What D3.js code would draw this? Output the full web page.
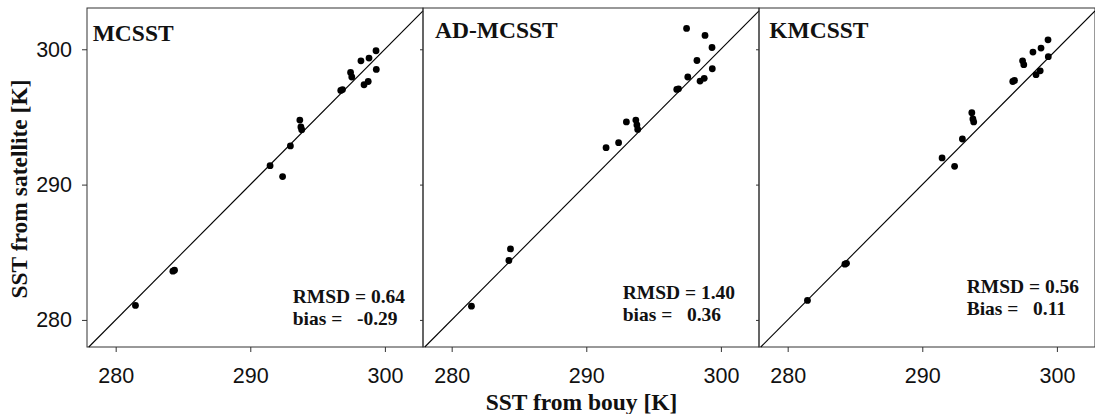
<!DOCTYPE html>
<html>
<head>
<meta charset="utf-8">
<script src="https://cdn.jsdelivr.net/npm/d3@7"></script>
<style>
    body { margin: 0; background: #fff; }
    .tick text { font-family: "Liberation Sans", Arial, sans-serif; font-size: 21.5px; fill: #111; }
    .serif { font-family: "Liberation Serif", "Times New Roman", serif; font-weight: bold; fill: #111; white-space: pre; }
</style>
</head>
<body>
<svg id="chart" width="1095" height="414"></svg>
<script>
// Buoy SST (x) shared by all three panels
const buoy    = [281.47, 284.25, 284.37, 291.47, 292.40, 292.98, 293.68, 293.76, 293.82, 296.72, 296.85, 297.45, 297.54, 298.22, 298.45, 298.76, 298.82, 299.34, 299.36];
// Satellite SST (y) per algorithm
const mcsst   = [281.07, 283.60, 283.68, 291.40, 290.59, 292.86, 294.77, 294.26, 294.06, 296.96, 297.02, 298.29, 297.95, 299.15, 297.38, 297.62, 299.35, 299.89, 298.51];
const admcsst = [281.02, 284.39, 285.25, 292.73, 293.10, 294.63, 294.77, 294.41, 294.08, 297.03, 297.08, 301.54, 297.95, 299.17, 297.65, 297.85, 301.02, 300.13, 298.56];
const kmcsst  = [281.44, 284.12, 284.18, 291.97, 291.35, 293.37, 295.31, 294.85, 294.63, 297.62, 297.70, 299.15, 298.86, 299.79, 298.12, 298.41, 300.09, 300.70, 299.45];

const panelNames = ["MCSST", "AD-MCSST", "KMCSST"];
const rmsdText   = ["0.64", "1.40", "0.56"];
const biasText   = ["-0.29", "0.36", "0.11"];
const biasLabel  = ["bias", "bias", "Bias"];
const tickValues = [280, 290, 300];

const series = [mcsst, admcsst, kmcsst];

// layout
const left0 = 87, panelW = 336, plotTop = 8, plotBottom = 347;
const titlePos = [{ dx: 5.7, y: 40.7 }, { dx: 12, y: 37.5 }, { dx: 10.3, y: 37.5 }];
const notePos  = [{ dx: 205.7, y: 302.7 }, { dx: 199.7, y: 299.3 }, { dx: 207.7, y: 292.7 }];

const svg = d3.select("#chart");

const y = d3.scaleLinear().domain([278.0, 303.05]).range([plotBottom, plotTop]);

series.forEach((vals, i) => {
    const x0 = left0 + i * panelW;
    const x = d3.scaleLinear().domain([277.87, 302.83]).range([x0, x0 + panelW]);
    const g = svg.append("g");

    // frame
    g.append("rect")
        .attr("x", x0).attr("y", plotTop)
        .attr("width", panelW).attr("height", plotBottom - plotTop)
        .attr("fill", "none").attr("stroke", "#333").attr("stroke-width", 1);

    // 1:1 line
    const lo = Math.max(x.domain()[0], y.domain()[0]);
    const hi = Math.min(x.domain()[1], y.domain()[1]);
    g.append("line")
        .attr("x1", x(lo)).attr("y1", y(lo))
        .attr("x2", x(hi)).attr("y2", y(hi))
        .attr("stroke", "#000").attr("stroke-width", 1.1);

    // x axis
    const xa = g.append("g")
        .attr("transform", `translate(0, ${plotBottom})`)
        .call(d3.axisBottom(x).tickValues(tickValues).tickSize(5).tickSizeOuter(0).tickPadding(16));
    xa.select(".domain").remove();
    xa.selectAll(".tick line").attr("stroke", "#333");

    // y axis
    const ya = g.append("g")
        .attr("transform", `translate(${x0}, 0)`)
        .call(d3.axisLeft(y).tickValues(tickValues).tickSize(i === 0 ? 5 : 3).tickSizeOuter(0).tickPadding(10));
    ya.select(".domain").remove();
    ya.selectAll(".tick line").attr("stroke", "#333");
    if (i > 0) ya.selectAll(".tick text").remove();

    // points
    g.selectAll("circle")
        .data(buoy.map((b, k) => [b, vals[k]]))
        .enter()
        .append("circle")
        .attr("cx", d => x(d[0]))
        .attr("cy", d => y(d[1]))
        .attr("r", 3.4)
        .attr("fill", "#000");

    // panel title
    g.append("text")
        .attr("class", "serif")
        .attr("x", x0 + titlePos[i].dx)
        .attr("y", titlePos[i].y)
        .style("font-size", "23.5px")
        .text(panelNames[i]);

    // stats
    g.append("text")
        .attr("class", "serif")
        .attr("x", x0 + notePos[i].dx)
        .attr("y", notePos[i].y)
        .style("font-size", "19.5px")
        .text("RMSD = " + rmsdText[i]);
    g.append("text")
        .attr("class", "serif")
        .attr("x", x0 + notePos[i].dx)
        .attr("y", notePos[i].y + 22)
        .style("font-size", "19.5px")
        .text(biasLabel[i] + " =   " + biasText[i]);
});

// axis titles
svg.append("text")
    .attr("class", "serif")
    .attr("x", 581.5)
    .attr("y", 410)
    .attr("text-anchor", "middle")
    .style("font-size", "23.5px")
    .text("SST from bouy [K]");

svg.append("text")
    .attr("class", "serif")
    .attr("transform", "rotate(-90)")
    .attr("x", -189)
    .attr("y", 27)
    .attr("text-anchor", "middle")
    .style("font-size", "23.5px")
    .text("SST from satellite [K]");
</script>
</body>
</html>
